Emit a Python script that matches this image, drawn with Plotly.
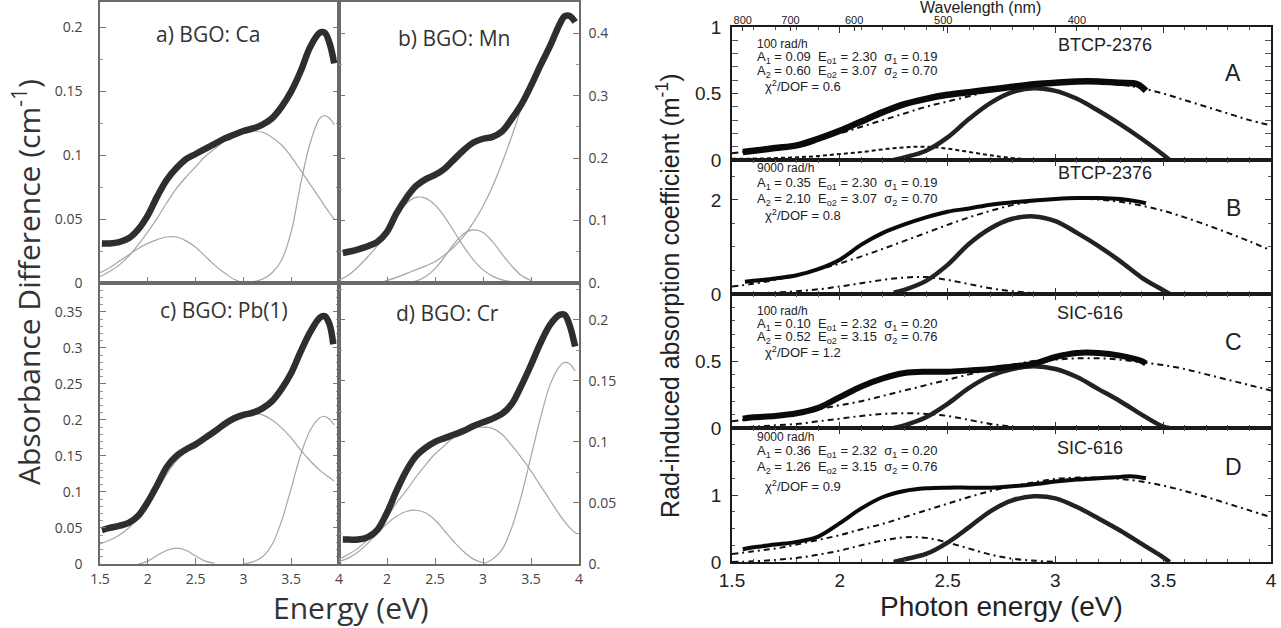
import plotly.graph_objects as go

W, H = 1281, 628

# ================= LEFT: BGO absorbance difference =================
# a) BGO: Ca
CA_E = [1.52,1.6,1.7,1.8,1.9,2.0,2.1,2.2,2.3,2.4,2.5,2.6,2.7,2.8,2.9,3.0,3.1,3.2,3.3,3.4,3.5,3.6,3.7,3.8,3.85,3.9,3.95]
CA_DATA = [0.031,0.031,0.032,0.035,0.042,0.053,0.068,0.081,0.090,0.097,0.101,0.105,0.109,0.113,0.116,0.119,0.121,0.124,0.129,0.138,0.150,0.166,0.185,0.196,0.196,0.188,0.172]
CA_G1_E = [1.5,1.6,1.7,1.8,1.9,2.0,2.1,2.2,2.3,2.4,2.5,2.6,2.7,2.8,2.9,3.0,3.05]
CA_G1 = [0.008,0.012,0.017,0.022,0.027,0.031,0.034,0.036,0.036,0.033,0.028,0.021,0.014,0.008,0.003,0.0005,0.0]
CA_G2_E = [1.5,1.6,1.7,1.8,1.9,2.0,2.1,2.2,2.3,2.4,2.5,2.6,2.7,2.8,2.9,3.0,3.1,3.2,3.3,3.4,3.5,3.6,3.7,3.8,3.9,3.95]
CA_G2 = [0.005,0.009,0.014,0.021,0.030,0.040,0.051,0.063,0.074,0.083,0.091,0.099,0.105,0.111,0.115,0.118,0.119,0.118,0.114,0.108,0.099,0.088,0.077,0.066,0.055,0.050]
CA_G3_E = [3.0,3.1,3.2,3.3,3.4,3.5,3.6,3.7,3.8,3.85,3.9,3.95]
CA_G3 = [0.0,0.001,0.003,0.008,0.018,0.040,0.078,0.110,0.129,0.131,0.129,0.124]

# b) BGO: Mn
MN_E = [1.54,1.6,1.7,1.8,1.9,2.0,2.1,2.2,2.3,2.4,2.5,2.6,2.7,2.8,2.9,3.0,3.1,3.2,3.3,3.4,3.5,3.6,3.7,3.8,3.85,3.9,3.96]
MN_DATA = [0.048,0.050,0.054,0.059,0.066,0.082,0.112,0.136,0.155,0.166,0.173,0.183,0.198,0.213,0.225,0.231,0.234,0.243,0.263,0.286,0.316,0.349,0.380,0.415,0.427,0.428,0.418]
MN_G1_E = [1.5,1.6,1.7,1.8,1.9,2.0,2.1,2.2,2.3,2.4,2.5,2.6,2.7,2.8,2.9,3.0,3.1,3.2,3.3,3.4]
MN_G1 = [0.005,0.013,0.026,0.042,0.060,0.083,0.108,0.127,0.137,0.136,0.125,0.106,0.082,0.058,0.037,0.021,0.011,0.005,0.002,0.001]
MN_G2_E = [2.2,2.3,2.4,2.5,2.6,2.7,2.8,2.9,3.0,3.1,3.2,3.3,3.4,3.5]
MN_G2 = [0.000,0.003,0.010,0.023,0.042,0.063,0.079,0.085,0.081,0.066,0.046,0.027,0.012,0.004]
MN_G3_E = [1.9,2.0,2.1,2.2,2.3,2.4,2.5,2.6,2.7,2.8,2.9,3.0,3.1,3.2,3.3,3.4,3.45]
MN_G3 = [0.0,0.004,0.009,0.015,0.021,0.027,0.034,0.045,0.058,0.075,0.097,0.123,0.155,0.193,0.235,0.280,0.300]

# c) BGO: Pb(1)
PB_E = [1.52,1.6,1.7,1.8,1.9,2.0,2.1,2.2,2.3,2.4,2.5,2.6,2.7,2.8,2.9,3.0,3.1,3.2,3.3,3.4,3.5,3.6,3.7,3.8,3.85,3.9,3.94]
PB_DATA = [0.047,0.050,0.053,0.057,0.067,0.086,0.110,0.135,0.150,0.159,0.166,0.175,0.184,0.194,0.202,0.207,0.210,0.216,0.226,0.243,0.265,0.295,0.322,0.342,0.344,0.333,0.305]
PB_G1_E = [1.9,2.0,2.1,2.2,2.3,2.4,2.5,2.6,2.7]
PB_G1 = [0.0,0.004,0.012,0.019,0.022,0.019,0.011,0.004,0.001]
PB_G2_E = [1.5,1.6,1.7,1.8,1.9,2.0,2.1,2.2,2.3,2.4,2.5,2.6,2.7,2.8,2.9,3.0,3.1,3.2,3.3,3.4,3.5,3.6,3.7,3.8,3.9,3.95]
PB_G2 = [0.028,0.033,0.040,0.050,0.064,0.082,0.103,0.125,0.143,0.156,0.167,0.178,0.188,0.197,0.203,0.207,0.209,0.207,0.200,0.189,0.175,0.158,0.143,0.130,0.120,0.115]
PB_G3_E = [3.0,3.1,3.2,3.3,3.4,3.5,3.6,3.7,3.8,3.85,3.9,3.95]
PB_G3 = [0.0,0.003,0.010,0.027,0.060,0.105,0.152,0.186,0.203,0.205,0.201,0.193]

# d) BGO: Cr
CR_E = [1.54,1.6,1.7,1.8,1.9,2.0,2.1,2.2,2.3,2.4,2.5,2.6,2.7,2.8,2.9,3.0,3.1,3.2,3.3,3.4,3.5,3.6,3.7,3.8,3.85,3.9,3.96]
CR_DATA = [0.020,0.020,0.020,0.022,0.028,0.042,0.060,0.076,0.088,0.095,0.100,0.103,0.106,0.109,0.113,0.116,0.119,0.123,0.131,0.146,0.163,0.181,0.196,0.204,0.204,0.196,0.178]
CR_G1_E = [1.5,1.6,1.7,1.8,1.9,2.0,2.1,2.2,2.3,2.4,2.5,2.6,2.7,2.8,2.9,3.0]
CR_G1 = [0.002,0.005,0.010,0.017,0.025,0.033,0.039,0.043,0.044,0.042,0.036,0.027,0.018,0.010,0.004,0.001]
CR_G2_E = [1.5,1.6,1.7,1.8,1.9,2.0,2.1,2.2,2.3,2.4,2.5,2.6,2.7,2.8,2.9,3.0,3.1,3.2,3.3,3.4,3.5,3.6,3.7,3.8,3.9,3.97]
CR_G2 = [0.004,0.008,0.013,0.020,0.028,0.038,0.050,0.060,0.071,0.081,0.090,0.097,0.104,0.108,0.111,0.112,0.111,0.106,0.097,0.087,0.076,0.064,0.052,0.040,0.030,0.025]
CR_G3_E = [3.0,3.1,3.2,3.3,3.4,3.5,3.6,3.7,3.8,3.85,3.9,3.96]
CR_G3 = [0.0,0.004,0.012,0.030,0.056,0.088,0.120,0.147,0.162,0.165,0.164,0.158]

LEFT_LABELS = ["a) BGO: Ca", "b) BGO: Mn", "c) BGO: Pb(1)", "d) BGO: Cr"]

# ================= RIGHT: radiation-induced absorption =================
G_E = [1.5,1.6,1.7,1.8,1.9,2.0,2.1,2.2,2.3,2.4,2.5,2.6,2.7,2.8,2.9,3.0,3.1,3.2,3.3,3.4,3.5,3.6,3.7,3.8,3.9,4.0]
HUMP_E = [2.25,2.3,2.4,2.5,2.6,2.7,2.8,2.9,3.0,3.1,3.2,3.3,3.4,3.5,3.53]

A_DATA_E = [1.55,1.6,1.7,1.8,1.9,2.0,2.1,2.2,2.3,2.4,2.5,2.6,2.7,2.8,2.9,3.0,3.1,3.2,3.3,3.38,3.42]
A_DATA = [0.06,0.07,0.09,0.11,0.16,0.22,0.29,0.36,0.42,0.46,0.49,0.51,0.53,0.55,0.57,0.58,0.59,0.59,0.58,0.57,0.52]
A_G2 = [0.05,0.07,0.09,0.12,0.16,0.20,0.25,0.30,0.35,0.40,0.44,0.48,0.52,0.55,0.57,0.59,0.59,0.59,0.57,0.54,0.50,0.45,0.40,0.35,0.30,0.26]
A_G1_E = [1.5,1.6,1.7,1.8,1.9,2.0,2.1,2.2,2.3,2.4,2.5,2.6,2.7,2.8,2.9,3.0]
A_G1 = [0.01,0.01,0.015,0.02,0.03,0.045,0.06,0.08,0.095,0.10,0.085,0.06,0.035,0.015,0.005,0.0]
A_HUMP = [0.0,0.02,0.07,0.17,0.31,0.43,0.51,0.54,0.52,0.46,0.37,0.27,0.16,0.04,0.0]

B_DATA_E = [1.56,1.6,1.7,1.8,1.9,2.0,2.1,2.2,2.3,2.4,2.5,2.6,2.7,2.8,2.9,3.0,3.1,3.2,3.3,3.38,3.42]
B_DATA = [0.26,0.28,0.33,0.40,0.53,0.73,1.05,1.30,1.48,1.63,1.75,1.82,1.90,1.95,1.99,2.02,2.04,2.04,2.02,1.97,1.93]
B_G2 = [0.16,0.22,0.30,0.40,0.52,0.65,0.80,0.96,1.13,1.30,1.47,1.63,1.77,1.89,1.97,2.02,2.03,2.01,1.96,1.88,1.77,1.63,1.47,1.30,1.12,0.93]
B_G1_E = [1.5,1.6,1.7,1.8,1.9,2.0,2.1,2.2,2.3,2.4,2.5,2.6,2.7,2.8,2.9,3.0,3.1,3.2]
B_G1 = [0.0,0.01,0.03,0.06,0.10,0.16,0.23,0.30,0.35,0.36,0.30,0.21,0.12,0.06,0.02,0.01,0.0,0.0]
B_HUMP = [0.03,0.09,0.28,0.62,1.07,1.40,1.60,1.65,1.55,1.30,1.02,0.70,0.35,0.08,0.0]

C_DATA_E = [1.55,1.6,1.7,1.8,1.9,2.0,2.1,2.2,2.3,2.4,2.5,2.6,2.7,2.8,2.9,3.0,3.1,3.2,3.3,3.4,3.42]
C_DATA = [0.07,0.08,0.09,0.11,0.15,0.23,0.31,0.37,0.41,0.42,0.42,0.43,0.44,0.46,0.48,0.53,0.56,0.56,0.54,0.50,0.48]
C_G2 = [0.05,0.07,0.09,0.11,0.14,0.17,0.20,0.24,0.28,0.32,0.36,0.40,0.44,0.47,0.50,0.51,0.52,0.52,0.51,0.49,0.47,0.44,0.40,0.36,0.32,0.28]
C_G1_E = [1.5,1.6,1.7,1.8,1.9,2.0,2.1,2.2,2.3,2.4,2.5,2.6,2.7,2.8,2.9]
C_G1 = [0.0,0.01,0.02,0.03,0.05,0.07,0.09,0.105,0.11,0.105,0.09,0.06,0.03,0.01,0.0]
C_HUMP = [0.0,0.02,0.08,0.18,0.30,0.39,0.44,0.46,0.44,0.38,0.29,0.20,0.10,0.01,0.0]

D_DATA_E = [1.55,1.6,1.7,1.8,1.9,2.0,2.1,2.2,2.3,2.4,2.5,2.6,2.7,2.8,2.9,3.0,3.1,3.2,3.3,3.35,3.42]
D_DATA = [0.19,0.22,0.26,0.30,0.38,0.58,0.80,0.97,1.06,1.10,1.11,1.11,1.11,1.13,1.16,1.20,1.23,1.25,1.27,1.28,1.25]
D_G2 = [0.12,0.16,0.20,0.26,0.33,0.40,0.49,0.57,0.67,0.77,0.87,0.97,1.06,1.13,1.19,1.24,1.26,1.26,1.24,1.20,1.14,1.06,0.97,0.87,0.77,0.67]
D_G1_E = [1.5,1.6,1.7,1.8,1.9,2.0,2.1,2.2,2.3,2.4,2.5,2.6,2.7,2.8,2.9,3.0]
D_G1 = [0.0,0.01,0.03,0.06,0.11,0.17,0.25,0.32,0.37,0.36,0.29,0.20,0.11,0.05,0.02,0.0]
D_HUMP = [0.0,0.04,0.12,0.29,0.52,0.76,0.92,0.98,0.95,0.82,0.65,0.47,0.27,0.07,0.0]

RIGHT_DOSE = ["100 rad/h", "9000 rad/h", "100 rad/h", "9000 rad/h"]
RIGHT_SAMPLE = ["BTCP-2376", "BTCP-2376", "SIC-616", "SIC-616"]
RIGHT_LETTER = ["A", "B", "C", "D"]
FIT_A1 = ["0.09", "0.35", "0.10", "0.36"]
FIT_E1 = ["2.30", "2.30", "2.32", "2.32"]
FIT_S1 = ["0.19", "0.19", "0.20", "0.20"]
FIT_A2 = ["0.60", "2.10", "0.52", "1.26"]
FIT_E2 = ["3.07", "3.07", "3.15", "3.15"]
FIT_S2 = ["0.70", "0.70", "0.76", "0.76"]
FIT_CHI = ["0.6", "0.8", "1.2", "0.9"]

WAVELENGTHS = [800, 700, 600, 500, 400]

# ================= helpers =================
def fx(px):
    return px / W

def fy(py):
    return 1 - py / H

fig = go.Figure()

def ax_id(i, letter):
    return letter if i == 1 else f"{letter}{i}"

def add_line(xs, ys, i, color, width, dash="solid", shape="spline"):
    fig.add_trace(go.Scatter(
        x=xs, y=ys, mode="lines", xaxis=ax_id(i, "x"), yaxis=ax_id(i, "y"),
        line=dict(color=color, width=width, dash=dash, shape=shape, smoothing=1.0),
        hoverinfo="skip", showlegend=False))

GRAY = "#a6a6a6"
DARK = "#2e2e2e"
DASHDOT = "6px,4px,2px,4px"

left_sets = [
    (CA_E, CA_DATA, [(CA_G1_E, CA_G1), (CA_G2_E, CA_G2), (CA_G3_E, CA_G3)]),
    (MN_E, MN_DATA, [(MN_G1_E, MN_G1), (MN_G2_E, MN_G2), (MN_G3_E, MN_G3)]),
    (PB_E, PB_DATA, [(PB_G1_E, PB_G1), (PB_G2_E, PB_G2), (PB_G3_E, PB_G3)]),
    (CR_E, CR_DATA, [(CR_G1_E, CR_G1), (CR_G2_E, CR_G2), (CR_G3_E, CR_G3)]),
]
for k, (e, d, comps) in enumerate(left_sets):
    i = k + 1
    for ce, cv in comps:
        add_line(ce, cv, i, GRAY, 1.2)
    add_line(e, d, i, DARK, 6.5)

right_sets = [
    (A_DATA_E, A_DATA, A_G2, A_G1_E, A_G1, A_HUMP, 6.5, "4px,3px"),
    (B_DATA_E, B_DATA, B_G2, B_G1_E, B_G1, B_HUMP, 4, DASHDOT),
    (C_DATA_E, C_DATA, C_G2, C_G1_E, C_G1, C_HUMP, 6, DASHDOT),
    (D_DATA_E, D_DATA, D_G2, D_G1_E, D_G1, D_HUMP, 4, DASHDOT),
]
for k, (de, dv, g2, g1e, g1, hump, dw, g1dash) in enumerate(right_sets):
    i = k + 5
    add_line(G_E, g2, i, "#111", 2, dash=DASHDOT)
    add_line(g1e, g1, i, "#111", 2, dash=g1dash)
    add_line(HUMP_E, hump, i, "#222", 4.5)
    add_line(de, dv, i, "#0a0a0a", dw)

# wavelength top axis helper trace (invisible)
WL_E = [1239.84 / w for w in WAVELENGTHS]
fig.add_trace(go.Scatter(x=WL_E, y=[None] * len(WL_E), mode="lines", xaxis="x9", yaxis="y5",
                         hoverinfo="skip", showlegend=False))

# ================= axes =================
LF = dict(family="Open Sans", size=14, color="#444")
RF = dict(family="Liberation Sans", size=19, color="#222")

lx = dict(range=[1.5, 4], showline=True, linecolor="#6a6a6a", linewidth=1.5, mirror=True,
          ticks="inside", ticklen=6, tickcolor="#777", showgrid=False, zeroline=False,
          tickfont=LF, ticklabelstandoff=1)
ly = dict(showline=True, linecolor="#6a6a6a", linewidth=1.5, mirror="allticks",
          ticks="inside", ticklen=6, tickcolor="#777", showgrid=False, zeroline=False,
          tickfont=LF, minor=dict(ticks="inside", ticklen=3, tickcolor="#999"))

L_X1 = fx(100); L_X2 = fx(339); L_X3 = fx(579)
L_Y0 = fy(564); L_Y1 = fy(283); L_Y2 = fy(2)

layout = dict(
    width=W, height=H, margin=dict(l=0, r=0, t=0, b=0, autoexpand=False),
    paper_bgcolor="white", plot_bgcolor="white", showlegend=False,
)

layout["xaxis"] = dict(lx, domain=[L_X1, L_X2], anchor="y", tickvals=[2, 2.5, 3, 3.5], showticklabels=False)
layout["xaxis2"] = dict(lx, domain=[L_X2, L_X3], anchor="y2", tickvals=[2, 2.5, 3, 3.5], showticklabels=False)
layout["xaxis3"] = dict(lx, domain=[L_X1, L_X2], anchor="y3", tickvals=[1.5, 2, 2.5, 3, 3.5, 4],
                        ticktext=["1.5", "2", "2.5", "3", "3.5", "4"])
layout["xaxis4"] = dict(lx, domain=[L_X2, L_X3], anchor="y4", tickvals=[2, 2.5, 3, 3.5, 4],
                        ticktext=["2", "2.5", "3", "3.5", "4"])

layout["yaxis"] = dict(ly, domain=[L_Y1, L_Y2], anchor="x", range=[0, 0.22],
                       tickvals=[0, 0.05, 0.1, 0.15, 0.2], ticktext=["0", "0.05", "0.1", "0.15", "0.2"],
                       ticklabelstandoff=13, minor=dict(ly["minor"], dtick=0.025))
layout["yaxis2"] = dict(ly, domain=[L_Y1, L_Y2], anchor="x2", side="right", range=[0, 0.45],
                        tickvals=[0, 0.1, 0.2, 0.3, 0.4], ticktext=["0.", "0.1", "0.2", "0.3", "0.4"],
                        ticklabelstandoff=5, minor=dict(ly["minor"], dtick=0.05))
layout["yaxis3"] = dict(ly, domain=[L_Y0, L_Y1], anchor="x3", range=[0, 0.39],
                        tickvals=[0, 0.05, 0.1, 0.15, 0.2, 0.25, 0.3, 0.35],
                        ticktext=["0", "0.05", "0.1", "0.15", "0.2", "0.25", "0.3", "0.35"],
                        ticklabelstandoff=13, minor=dict(ly["minor"], dtick=0.01))
layout["yaxis4"] = dict(ly, domain=[L_Y0, L_Y1], anchor="x4", side="right", range=[0, 0.23],
                        tickvals=[0, 0.05, 0.1, 0.15, 0.2], ticktext=["0.", "0.05", "0.1", "0.15", "0.2"],
                        ticklabelstandoff=5, minor=dict(ly["minor"], dtick=0.025))

R_X1 = fx(732); R_X2 = fx(1271)
R_YS = [27, 160, 294, 428, 562]
rx = dict(range=[1.5, 4], showline=True, linecolor="#1a1a1a", linewidth=1.5, mirror="allticks",
          ticks="inside", ticklen=6, tickcolor="#333", showgrid=False, zeroline=False,
          tickvals=[1.5, 2, 2.5, 3, 3.5, 4], ticktext=["1.5", "2", "2.5", "3", "3.5", "4"],
          tickfont=RF, minor=dict(ticks="inside", ticklen=3, dtick=0.1, tickcolor="#555"),
          domain=[R_X1, R_X2])
ry = dict(showline=True, linecolor="#1a1a1a", linewidth=1.5, mirror="allticks",
          ticks="inside", ticklen=6, tickcolor="#333", showgrid=False, zeroline=False,
          tickfont=RF, ticklabelstandoff=5)
R_RANGES = [[0, 1], [0, 2.85], [0, 1], [0, 2]]
R_TICKS = [[0, 0.5, 1], [0, 2], [0, 0.5], [0, 1]]
R_TICKTEXT = [["0", "0.5", "1"], ["0", "2"], ["0", "0.5"], ["0", "1"]]
R_MINOR = [0.1, 0.5, 0.1, 0.25]
for k in range(4):
    i = k + 5
    layout[f"xaxis{i}"] = dict(rx, anchor=f"y{i}", showticklabels=(k == 3))
    layout[f"yaxis{i}"] = dict(ry, anchor=f"x{i}", domain=[fy(R_YS[k + 1]), fy(R_YS[k])],
                               range=R_RANGES[k], tickvals=R_TICKS[k], ticktext=R_TICKTEXT[k],
                               minor=dict(ticks="inside", ticklen=3, dtick=R_MINOR[k], tickcolor="#555"))
layout["xaxis9"] = dict(overlaying="x5", side="top", anchor="y5", range=[1.5, 4],
                        tickvals=WL_E, ticktext=[str(w) for w in WAVELENGTHS],
                        ticks="inside", ticklen=4, tickcolor="#333", showline=False, showgrid=False,
                        zeroline=False, tickfont=dict(family="Liberation Sans", size=11, color="#222"),
                        ticklabelstandoff=0)

# ================= annotations =================
anns = []
def ann(text, px, py, size, family, xanchor="center", angle=0, color="#222"):
    anns.append(dict(text=text, x=fx(px), y=fy(py), xref="paper", yref="paper",
                     xanchor=xanchor, yanchor="middle", showarrow=False, textangle=angle,
                     font=dict(family=family, size=size, color=color)))

# left
LEFT_LABEL_POS = [(208, 34), (454, 38), (224, 310), (447, 313)]
for lab, (px, py) in zip(LEFT_LABELS, LEFT_LABEL_POS):
    ann(lab, px, py, 21, "Open Sans", color="#333")
ann("Absorbance Difference (cm<sup>-1</sup>)", 27, 282, 30, "Open Sans", angle=-90, color="#333")
ann("Energy (eV)", 351, 607, 30, "Open Sans", color="#333")

# right
ann("Rad-induced absorption coefficient (m<sup>-1</sup>)", 668, 296, 25, "Liberation Sans", angle=-90)
ann("Photon energy (eV)", 1001, 606, 28, "Liberation Sans")
ann("Wavelength (nm)", 980, 7, 16, "Liberation Sans")

NB = "\u00a0"
TXT_Y = [[44, 58, 72, 86], [168, 184, 199, 215], [311, 324, 337, 352], [437, 452, 468, 486]]
SAMPLE_Y = [45, 173, 313, 448]
SAMPLE_X = [1105, 1105, 1090, 1090]
LETTER_Y = [73, 208, 342, 467]
for k in range(4):
    ys = TXT_Y[k]
    ann(RIGHT_DOSE[k], 755, ys[0], 12, "Liberation Sans", xanchor="left")
    ann(f"A<sub>1</sub> = {FIT_A1[k]}{NB} E<sub>o1</sub> = {FIT_E1[k]}{NB} σ<sub>1</sub> = {FIT_S1[k]}",
        755, ys[1], 13, "Liberation Sans", xanchor="left")
    ann(f"A<sub>2</sub> = {FIT_A2[k]}{NB} E<sub>o2</sub> = {FIT_E2[k]}{NB} σ<sub>2</sub> = {FIT_S2[k]}",
        755, ys[2], 13, "Liberation Sans", xanchor="left")
    ann(f"χ<sup>2</sup>/DOF = {FIT_CHI[k]}", 763, ys[3], 13, "Liberation Sans", xanchor="left")
    ann(RIGHT_SAMPLE[k], SAMPLE_X[k], SAMPLE_Y[k], 18, "Liberation Sans")
    ann(RIGHT_LETTER[k], 1233, LETTER_Y[k], 23, "Liberation Sans")

layout["annotations"] = anns
fig.update_layout(**layout)
fig.write_html("out.html", config={"displayModeBar": False},
               post_script="document.body.style.margin='0px';")
